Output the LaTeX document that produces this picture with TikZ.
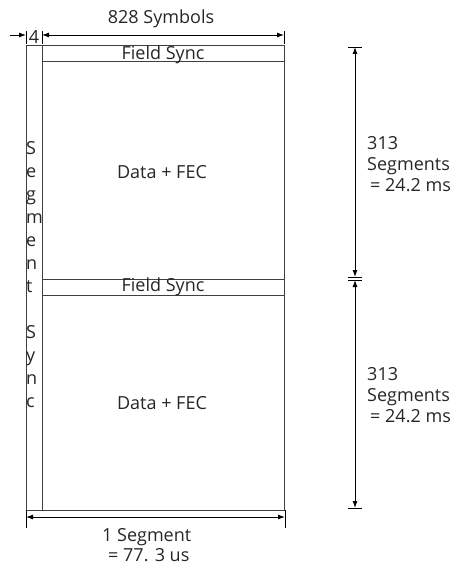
\documentclass[tikz,border=0pt]{standalone}
\usepackage{fontspec}
\setmainfont{Open Sans}
\usetikzlibrary{arrows.meta,positioning,calc}

\begin{document}
\begin{tikzpicture}[
    x=1pt, y=-1pt,
    frame/.style={draw=black!75, line width=1pt},
    dimline/.style={{Latex[length=7pt,width=5pt]}-{Latex[length=7pt,width=5pt]}, draw=black, line width=0.9pt},
    oneway/.style={-{Latex[length=7pt,width=5pt]}, draw=black, line width=0.9pt},
    tickline/.style={draw=black, line width=0.9pt},
    txt/.style={font=\fontsize{18}{21}\selectfont, text=black!85, inner sep=0pt}
]
    \useasboundingbox (0,0) rectangle (458,567);

    % frame corners and rows
    \coordinate (tl) at (26,46);
    \coordinate (br) at (284,510);
    \coordinate (itop) at (42,46);
    \coordinate (ibot) at (42,510);
    \draw [frame] (tl) rectangle (br);
    \draw [frame] (itop) -- (ibot);
    \draw [frame] (42,62) -- (284,62);
    \draw [frame] (42,279) -- (284,279);
    \draw [frame] (42,295) -- (284,295);

    \node [txt] (fs1) at (163,55) {Field Sync};
    \node [txt] (data1) at (162,172) {Data + FEC};
    \node [txt] (fs2) at (163,287) {Field Sync};
    \node [txt] (data2) at (162,403) {Data + FEC};
    \node [txt, anchor=north west, align=left, font=\fontsize{18}{23}\selectfont] (ssync) at (26,141)
        {S\\e\\g\\m\\e\\n\\t\\[23pt]S\\y\\n\\c};

    % top dimensions
    \coordinate (t0) at (26,31);
    \coordinate (t1) at (42,31);
    \coordinate (t2) at (284,31);
    \coordinate (a0) at (10,35);
    \coordinate (a1) at (26,35);
    \coordinate (a2) at (42,35);
    \coordinate (a3) at (284,35);
    \foreach \t in {t0,t1,t2}
        \draw [tickline] (\t) -- ++(0,13);
    \draw [oneway] (a0) -- (a1);
    \draw [dimline] (a2) -- (a3);
    \node [txt] (four) at (34,37) {4};
    \node [txt] (syms) at (161,19) {828 Symbols};

    % right dimensions
    \coordinate (r0) at (355,47);
    \coordinate (r1) at (355,277);
    \coordinate (r2) at (355,280);
    \coordinate (r3) at (355,508);
    \foreach \r in {r0,r1,r2,r3}
        \draw [tickline] ($(\r)+(-7,0)$) -- ++(14,0);
    \draw [dimline] (r0) -- (r1);
    \draw [dimline] (r2) -- (r3);
    \node [txt, anchor=west, align=left] (seg1) at (367,164) {313\\Segments\\\hspace*{3pt}= 24.2 ms};
    \node [txt, anchor=west, align=left] (seg2) at (367,395) {313\\Segments\\\hspace*{3pt}= 24.2 ms};

    % bottom dimension
    \coordinate (b0) at (26,510);
    \coordinate (b1) at (285,510);
    \draw [tickline] (b0) -- ++(0,18);
    \draw [tickline] (b1) -- ++(0,18);
    \draw [dimline] ($(b0)+(0,7)$) -- ($(b1)+(0,7)$);
    \node [txt, anchor=north west, align=left, font=\fontsize{18}{20}\selectfont] (oneseg) at (102,528)
        {1 Segment\\\hspace*{6pt}= 77. 3 us};
\end{tikzpicture}
\end{document}
